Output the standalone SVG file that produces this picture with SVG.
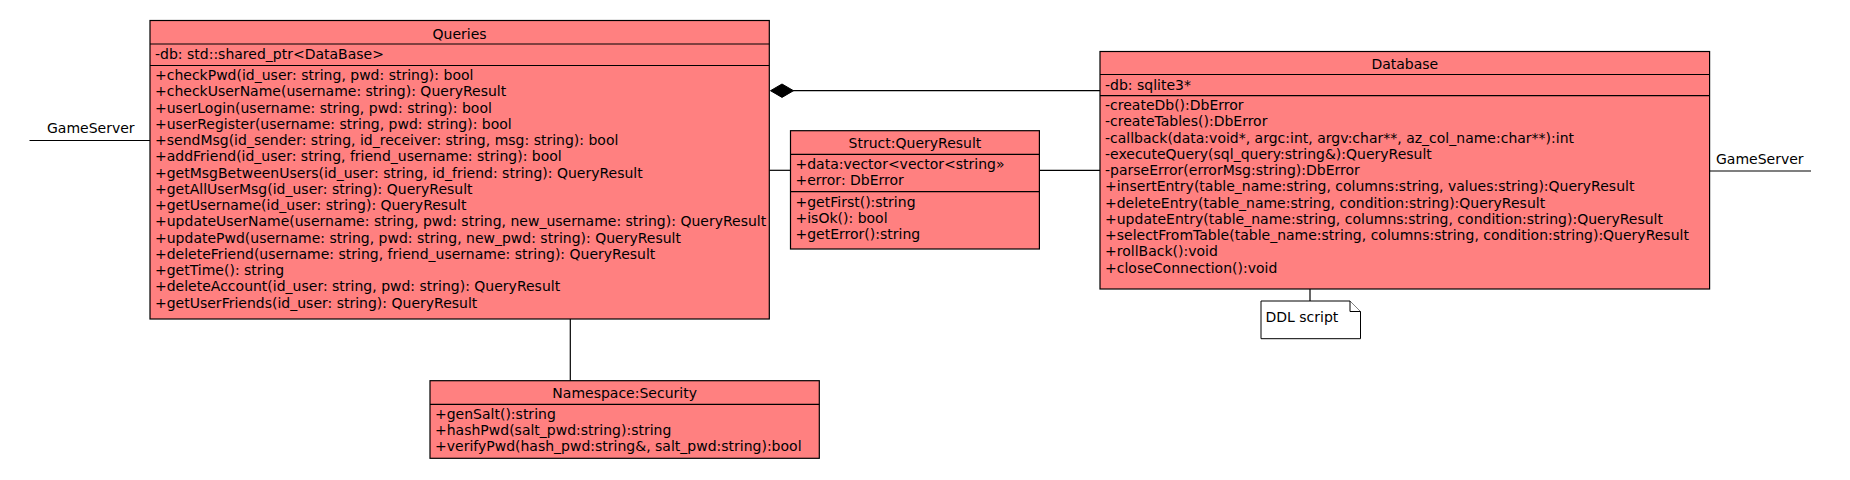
<svg xmlns="http://www.w3.org/2000/svg" width="1850" height="480" viewBox="0 0 1850 480">
<style>
.box{fill:#FF8080;stroke:#000;stroke-width:1.2}
.sep{stroke:#000;stroke-width:1.2}
.ln{stroke:#000;stroke-width:1.2;fill:none}
text{font-family:"DejaVu Sans","Liberation Sans",sans-serif;font-size:14px;fill:#000}
.t{text-anchor:middle}
.note{fill:#fff;stroke:#000;stroke-width:1}
</style>
<rect width="1850" height="480" fill="#fff"/>
<g id="connectors">
<line class="ln" x1="29.5" y1="140.5" x2="150" y2="140.5"/>
<text x="47" y="133">GameServer</text>
<line class="ln" x1="1709.6" y1="171" x2="1811" y2="171"/>
<text x="1716" y="164">GameServer</text>
<line class="ln" x1="793" y1="90.7" x2="1100" y2="90.7"/>
<polygon points="770.5,90.7 782,84 793.5,90.7 782,97.4" fill="#000" stroke="#000"/>
<line class="ln" x1="769.3" y1="170.3" x2="790.5" y2="170.3"/>
<line class="ln" x1="1039.4" y1="170.3" x2="1100" y2="170.3"/>
<line class="ln" x1="570.3" y1="319" x2="570.3" y2="380.7"/>
<line class="ln" x1="1310" y1="289" x2="1310" y2="301"/>
</g>
<g id="queries">
<rect class="box" x="150" y="20.5" width="619.3" height="298.5"/>
<line class="sep" x1="150" y1="44" x2="769.3" y2="44"/>
<line class="sep" x1="150" y1="65.5" x2="769.3" y2="65.5"/>
<text class="t" x="459.6" y="38.5">Queries</text>
<text x="155" y="59">-db: std::shared_ptr&lt;DataBase&gt;</text>
<text x="155" y="80">+checkPwd(id_user: string, pwd: string): bool</text>
<text x="155" y="96.25">+checkUserName(username: string): QueryResult</text>
<text x="155" y="112.5">+userLogin(username: string, pwd: string): bool</text>
<text x="155" y="128.75">+userRegister(username: string, pwd: string): bool</text>
<text x="155" y="145">+sendMsg(id_sender: string, id_receiver: string, msg: string): bool</text>
<text x="155" y="161.25">+addFriend(id_user: string, friend_username: string): bool</text>
<text x="155" y="177.5">+getMsgBetweenUsers(id_user: string, id_friend: string): QueryResult</text>
<text x="155" y="193.75">+getAllUserMsg(id_user: string): QueryResult</text>
<text x="155" y="210">+getUsername(id_user: string): QueryResult</text>
<text x="155" y="226.25">+updateUserName(username: string, pwd: string, new_username: string): QueryResult</text>
<text x="155" y="242.5">+updatePwd(username: string, pwd: string, new_pwd: string): QueryResult</text>
<text x="155" y="258.75">+deleteFriend(username: string, friend_username: string): QueryResult</text>
<text x="155" y="275">+getTime(): string</text>
<text x="155" y="291.25">+deleteAccount(id_user: string, pwd: string): QueryResult</text>
<text x="155" y="307.5">+getUserFriends(id_user: string): QueryResult</text>
</g>
<g id="queryresult">
<rect class="box" x="790.5" y="130.7" width="248.9" height="118.3"/>
<line class="sep" x1="790.5" y1="154.3" x2="1039.4" y2="154.3"/>
<line class="sep" x1="790.5" y1="191.7" x2="1039.4" y2="191.7"/>
<text class="t" x="914.95" y="148.4">Struct:QueryResult</text>
<text x="795.5" y="169">+data:vector&lt;vector&lt;string»</text>
<text x="795.5" y="185.3">+error: DbError</text>
<text x="795.5" y="206.5">+getFirst():string</text>
<text x="795.5" y="222.7">+isOk(): bool</text>
<text x="795.5" y="239">+getError():string</text>
</g>
<g id="database">
<rect class="box" x="1100" y="51.5" width="609.6" height="237.5"/>
<line class="sep" x1="1100" y1="74.5" x2="1709.6" y2="74.5"/>
<line class="sep" x1="1100" y1="95.7" x2="1709.6" y2="95.7"/>
<text class="t" x="1404.8" y="69">Database</text>
<text x="1105" y="90">-db: sqlite3*</text>
<text x="1105" y="110">-createDb():DbError</text>
<text x="1105" y="126.25">-createTables():DbError</text>
<text x="1105" y="142.5">-callback(data:void*, argc:int, argv:char**, az_col_name:char**):int</text>
<text x="1105" y="158.75">-executeQuery(sql_query:string&amp;):QueryResult</text>
<text x="1105" y="175">-parseError(errorMsg:string):DbError</text>
<text x="1105" y="191.25">+insertEntry(table_name:string, columns:string, values:string):QueryResult</text>
<text x="1105" y="207.5">+deleteEntry(table_name:string, condition:string):QueryResult</text>
<text x="1105" y="223.75">+updateEntry(table_name:string, columns:string, condition:string):QueryResult</text>
<text x="1105" y="240">+selectFromTable(table_name:string, columns:string, condition:string):QueryResult</text>
<text x="1105" y="256.25">+rollBack():void</text>
<text x="1105" y="272.5">+closeConnection():void</text>
</g>
<g id="security">
<rect class="box" x="430" y="380.7" width="389.3" height="77.6"/>
<line class="sep" x1="430" y1="404.3" x2="819.3" y2="404.3"/>
<text class="t" x="624.65" y="398.3">Namespace:Security</text>
<text x="435" y="418.5">+genSalt():string</text>
<text x="435" y="434.5">+hashPwd(salt_pwd:string):string</text>
<text x="435" y="450.5">+verifyPwd(hash_pwd:string&amp;, salt_pwd:string):bool</text>
</g>
<g id="note">
<path class="note" d="M1261,301 H1350 L1360.5,311.5 V338.7 H1261 Z"/>
<path class="note" d="M1350,301 V311.5 H1360.5" fill="none"/>
<text x="1265.5" y="322">DDL script</text>
</g>
</svg>
